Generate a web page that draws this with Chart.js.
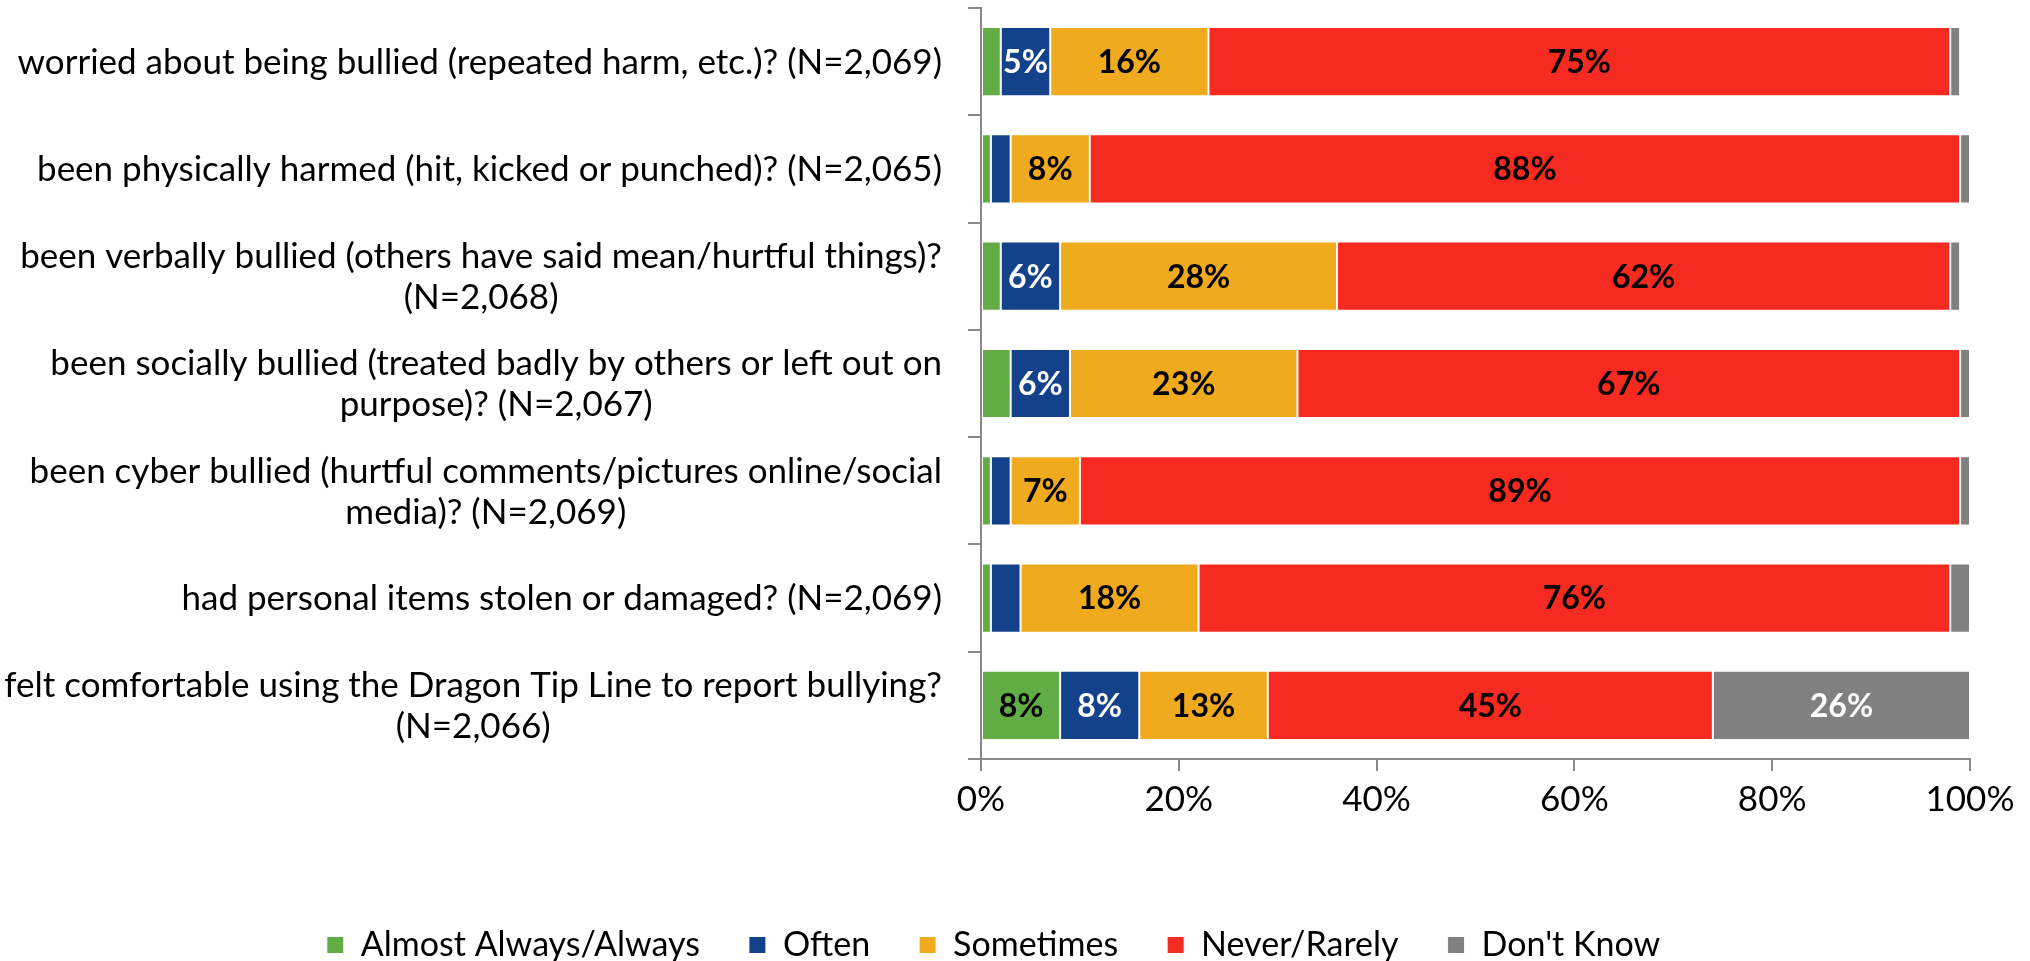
<!DOCTYPE html>
<html>
<head>
<meta charset="utf-8">
<script src="https://cdn.jsdelivr.net/npm/chart.js@4.4.1/dist/chart.umd.min.js"></script>
<style>
  html, body { margin: 0; padding: 0; background: #ffffff; }
  #wrap { width: 2030px; height: 961px; position: relative; }
</style>
</head>
<body>
<div id="wrap"><canvas id="c"></canvas></div>
<script>
const categories = [
  ["worried about being bullied (repeated harm, etc.)? (N=2,069)"],
  ["been physically harmed (hit, kicked or punched)? (N=2,065)"],
  ["been verbally bullied (others have said mean/hurtful things)?", "(N=2,068)"],
  ["been socially bullied (treated badly by others or left out on", "purpose)? (N=2,067)"],
  ["been cyber bullied (hurtful comments/pictures online/social", "media)? (N=2,069)"],
  ["had personal items stolen or damaged? (N=2,069)"],
  ["felt comfortable using the Dragon Tip Line to report bullying?", "(N=2,066)"]
];
const seriesNames = ["Almost Always/Always", "Often", "Sometimes", "Never/Rarely", "Don't Know"];
const almostAlways = [2, 1, 2, 3, 1, 1, 8];
const often = [5, 2, 6, 6, 2, 3, 8];
const sometimes = [16, 8, 28, 23, 7, 18, 13];
const neverRarely = [75, 88, 62, 67, 89, 76, 45];
const dontKnow = [1, 1, 1, 1, 1, 2, 26];
const xTicks = [0, 20, 40, 60, 80, 100];

const colors = ["#62AC46", "#13428A", "#EFAA1D", "#F72A21", "#808080"];
const labelColors = ["#000000", "#ffffff", "#000000", "#000000", "#ffffff"];
const FONT = "Lato";

const seriesValues = [almostAlways, often, sometimes, neverRarely, dontKnow];

const datasets = seriesNames.map((name, i) => ({
  label: name,
  data: seriesValues[i],
  backgroundColor: colors[i],
  borderColor: "#ffffff",
  borderWidth: 1,
  borderSkipped: false,
  barPercentage: 0.645,
  categoryPercentage: 1.0
}));

const dataLabelPlugin = {
  id: "dataLabels",
  afterDatasetsDraw(chart) {
    const ctx = chart.ctx;
    ctx.save();
    ctx.font = "bold 32px " + FONT;
    ctx.textAlign = "center";
    ctx.textBaseline = "middle";
    chart.data.datasets.forEach((ds, di) => {
      const meta = chart.getDatasetMeta(di);
      meta.data.forEach((bar, i) => {
        const v = ds.data[i];
        if (v >= 5) {
          ctx.fillStyle = labelColors[di];
          ctx.fillText(v + "%", bar.x - (bar.x - bar.base) / 2, bar.y + 1);
        }
      });
    });
    ctx.restore();
  }
};

const yLabelPlugin = {
  id: "yLabels",
  afterDraw(chart) {
    const ctx = chart.ctx;
    const ys = chart.scales.y;
    const rightEdge = chart.chartArea.left - 39;
    const lh = 41;
    ctx.save();
    ctx.font = "35px " + FONT;
    ctx.fillStyle = "#000000";
    ctx.textAlign = "center";
    ctx.textBaseline = "middle";
    chart.data.labels.forEach((lines, i) => {
      const y = ys.getPixelForTick(i);
      const maxW = Math.max(...lines.map(l => ctx.measureText(l).width));
      const cx = rightEdge - maxW / 2;
      const startY = y - (lines.length - 1) * lh / 2;
      lines.forEach((l, k) => ctx.fillText(l, cx, startY + k * lh + 1));
    });
    ctx.restore();
  }
};

new Chart(document.getElementById("c"), {
  type: "bar",
  data: { labels: categories, datasets: datasets },
  options: {
    indexAxis: "y",
    responsive: true,
    maintainAspectRatio: false,
    animation: false,
    layout: { padding: { left: 17, right: 60, top: 8, bottom: -11 } },
    scales: {
      x: {
        stacked: true,
        min: 0,
        max: 100,
        afterBuildTicks(s) { s.ticks = xTicks.map(v => ({ value: v })); },
        afterFit(s) { s.height = 120; },
        border: { display: true, color: "#898989", width: 2 },
        grid: { drawOnChartArea: false, drawTicks: true, tickLength: 12, color: "#898989", lineWidth: 2 },
        ticks: {
          color: "#000000",
          padding: 8,
          font: { family: FONT, size: 35 },
          callback: v => v + "%"
        }
      },
      y: {
        stacked: true,
        afterFit(s) { s.width = 964; },
        border: { display: true, color: "#898989", width: 2 },
        grid: { drawOnChartArea: false, drawTicks: true, tickLength: 13, color: "#898989", lineWidth: 2, offset: true },
        ticks: { display: false }
      }
    },
    plugins: {
      legend: {
        position: "bottom",
        labels: {
          color: "#000000",
          font: { family: FONT, size: 34 },
          boxWidth: 17,
          boxHeight: 17,
          padding: 49
        }
      },
      tooltip: { enabled: false }
    }
  },
  plugins: [dataLabelPlugin, yLabelPlugin]
});
</script>
</body>
</html>
